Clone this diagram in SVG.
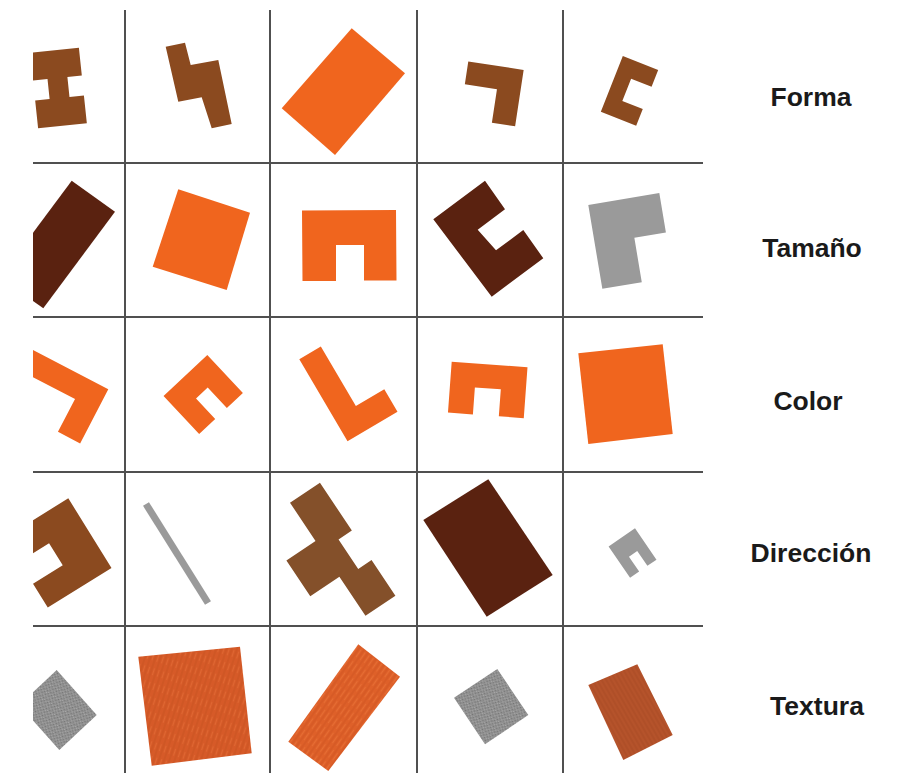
<svg xmlns="http://www.w3.org/2000/svg" width="905" height="773" viewBox="0 0 905 773">
<defs>
<style>
.grid line{stroke:#505050;stroke-width:2}
.br{fill:#8b4a1f}
.br2{fill:#84502a}
.dk{fill:#5a2210}
.or{fill:#f0651e}
.gy{fill:#9a9a9a}
.lbl{font-family:"Liberation Sans",Arial,sans-serif;font-weight:bold;font-size:26.5px;fill:#1a1a1a;text-anchor:middle}
</style>
<clipPath id="clipL"><rect x="33" y="0" width="872" height="773"/></clipPath>
<pattern id="texO" patternUnits="userSpaceOnUse" width="5" height="14" patternTransform="rotate(18)">
<rect width="5" height="14" fill="#d65a28"/>
<path d="M1 0V14" stroke="#b94818" stroke-width="0.9" opacity="0.55"/>
<path d="M3.5 0V7" stroke="#ea7840" stroke-width="0.8" opacity="0.55"/>
</pattern>
<pattern id="texO2" patternUnits="userSpaceOnUse" width="5" height="14" patternTransform="rotate(35)">
<rect width="5" height="14" fill="#de6029"/>
<path d="M1 0V14" stroke="#bf4a1a" stroke-width="0.9" opacity="0.55"/>
<path d="M3.5 3V12" stroke="#f07c42" stroke-width="0.8" opacity="0.55"/>
</pattern>
<pattern id="texB" patternUnits="userSpaceOnUse" width="4" height="12" patternTransform="rotate(-30)">
<rect width="4" height="12" fill="#b5532b"/>
<path d="M1 0V12" stroke="#96401c" stroke-width="0.8" opacity="0.5"/>
</pattern>
<pattern id="texG" patternUnits="userSpaceOnUse" width="4" height="4" patternTransform="rotate(30)">
<rect width="4" height="4" fill="#909090"/>
<rect x="0" y="0" width="1" height="1" fill="#747474"/>
<rect x="2" y="2" width="1" height="1" fill="#747474"/>
<rect x="2" y="0" width="1" height="1" fill="#a8a8a8"/>
<rect x="0" y="3" width="1" height="1" fill="#a8a8a8"/>
</pattern>
</defs>
<rect width="905" height="773" fill="#fff"/>

<g id="connectors" class="grid">
<line x1="125" y1="10" x2="125" y2="773"/>
<line x1="270" y1="10" x2="270" y2="773"/>
<line x1="417" y1="10" x2="417" y2="773"/>
<line x1="563" y1="10" x2="563" y2="773"/>
<line x1="33" y1="163" x2="703" y2="163"/>
<line x1="33" y1="317" x2="703" y2="317"/>
<line x1="33" y1="472" x2="703" y2="472"/>
<line x1="33" y1="626" x2="703" y2="626"/>
</g>

<g clip-path="url(#clipL)">
<!-- Row 0: Forma -->
<g id="r0c0"><polygon class="br" transform="translate(58.5,88) rotate(-6)" points="-24.5,-38 24.5,-38 24.5,-10 10,-10 10,10 24.5,10 24.5,38 -24.5,38 -24.5,10 -10,10 -10,-10 -24.5,-10"/></g>
<g id="r0c1"><polygon class="br" points="165.7,46.7 185,42.7 190.7,65 218.3,60 231.7,124 211.7,128.3 201.7,97.3 178.3,101.7"/></g>
<g id="r0c2"><polygon class="or" points="351.7,28.3 405,73.3 335,155 281.7,108.3"/></g>
<g id="r0c3"><polygon class="br" transform="translate(491.7,93.9) rotate(8.6)" points="-28,-28.5 28,-28.5 28,28.5 4.5,28.5 4.5,-5.5 -28,-5.5"/></g>
<g id="r0c4"><polygon class="br" transform="translate(629.5,90.9) rotate(21.5)" points="-19,-30 19,-30 19,-12 -3,-12 -3,12 19,12 19,30 -19,30"/></g>

<!-- Row 1: Tamaño -->
<g id="r1c0"><polygon class="dk" points="71.7,180.7 115,211.7 43.3,308.3 0,277.3"/></g>
<g id="r1c1"><polygon class="or" points="178.3,189.3 250,212.7 226.7,290 152.7,266.7"/></g>
<g id="r1c2"><polygon class="or" points="302,210.5 396,210 396.5,280.5 364,280.5 364,245 336,245 336,281 302.5,281"/></g>
<g id="r1c3"><polygon class="dk" points="433.3,219.3 485,180.7 505,209.3 477.7,229.7 496,250.3 523.3,230 543.3,258.3 491.7,296.7"/></g>
<g id="r1c4"><polygon class="gy" transform="translate(588.3,205) rotate(-9.5)" points="0,0 72,0 72,40 40,40 40,85 0,85"/></g>

<!-- Row 2: Color -->
<g id="r2c0"><polygon class="or" transform="translate(108.3,389.3) rotate(27.5)" points="-110,0 0,0 0,61 -25,61 -25,24 -110,24"/></g>
<g id="r2c1"><polygon class="or" transform="translate(207.3,355) rotate(46.8)" points="0,0 52,0 52,22 24,22 24,38 52,38 52,60 0,60"/></g>
<g id="r2c2"><polygon class="or" transform="translate(299.3,359.3) rotate(-30.5)" points="0,0 25,0 25,69 58,69 58,95 0,95"/></g>
<g id="r2c3"><polygon class="or" transform="translate(451.7,361.7) rotate(4.2)" points="0,0 76,0 76,51 51,51 51,24 25,24 25,51 0,51"/></g>
<g id="r2c4"><polygon class="or" points="578.3,353.3 662.7,344.3 672.7,434 588.3,444"/></g>

<!-- Row 3: Dirección -->
<g id="r3c0"><polygon class="br" transform="translate(68.3,498.3) rotate(58.2)" points="0,0 82,0 82,75 54,75 54,40 28,40 28,75 0,75"/></g>
<g id="r3c1"><line x1="146" y1="504" x2="208" y2="603" stroke="#9a9a9a" stroke-width="7"/></g>
<g id="r3c2"><polygon class="br2" transform="translate(290,502.7) rotate(-33.7)" points="0,0 36,0 36,57.5 20,57.5 20,93 36,93 36,136 0,136 0,89 -35,89 -35,46 0,46"/></g>
<g id="r3c3"><polygon class="dk" points="488.3,479.3 552.7,575 486.7,616.7 423.3,520"/></g>
<g id="r3c4"><polygon class="gy" transform="translate(635,528.3) rotate(55.6)" points="0,0 38,0 38,11 20,11 20,21 38,21 38,32 0,32"/></g>

<!-- Row 4: Textura -->
<g id="r4c0"><polygon fill="url(#texG)" points="56.7,670 96.7,715 59.3,750 19.3,705"/></g>
<g id="r4c1"><polygon fill="url(#texO)" points="138.3,656.7 240,646.7 251.7,753.3 151.7,765.7"/></g>
<g id="r4c2"><polygon fill="url(#texO2)" points="358.3,644.3 400,676.7 328.3,771 288.3,741.7"/></g>
<g id="r4c3"><polygon fill="url(#texG)" points="497.3,669 528.3,715 485,744.3 454,697.7"/></g>
<g id="r4c4"><polygon fill="url(#texB)" points="637.3,664.3 672.7,735 623.3,760 588.3,685"/></g>
</g>

<g id="label-forma"><text class="lbl" x="811" y="106">Forma</text></g>
<g id="label-tamano"><text class="lbl" x="812" y="257">Tamaño</text></g>
<g id="label-color"><text class="lbl" x="808" y="410">Color</text></g>
<g id="label-direccion"><text class="lbl" x="811" y="562">Dirección</text></g>
<g id="label-textura"><text class="lbl" x="817" y="715">Textura</text></g>
</svg>
